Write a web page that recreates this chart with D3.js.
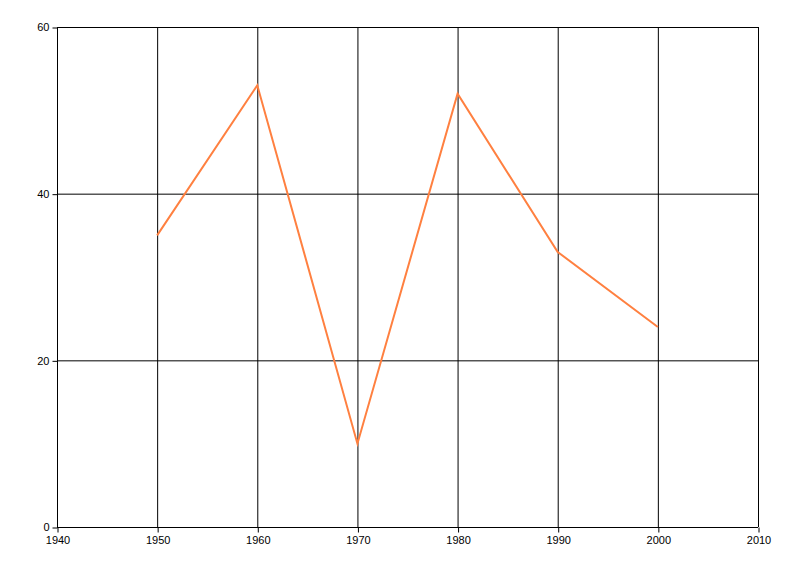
<!DOCTYPE html>
<html><head><meta charset="utf-8">
<script src="https://cdn.jsdelivr.net/npm/d3@7"></script>
<style>body{margin:0;background:#fff}svg{display:block}text{font-family:"Liberation Sans",Arial,sans-serif;font-size:11px}</style>
</head><body>
<svg id="c" width="800" height="576"></svg>
<script>
const years = [1950, 1960, 1970, 1980, 1990, 2000];
const values = [35, 53, 10, 52, 33, 24];
const xTicks = [1940, 1950, 1960, 1970, 1980, 1990, 2000, 2010];
const yTicks = [0, 20, 40, 60];

const svg = d3.select("#c");
const m = {l: 57, r: 42, t: 27, b: 49};
const W = 800, H = 576;
const x = d3.scaleLinear().domain([1940, 2010]).range([m.l, W - m.r]);
const y = d3.scaleLinear().domain([0, 60]).range([H - m.b, m.t]);

const g = svg.append("g");
g.selectAll(".vg").data(xTicks).join("line")
  .attr("x1", d => x(d) + 0.5).attr("x2", d => x(d) + 0.5)
  .attr("y1", y(60)).attr("y2", y(0)).attr("stroke", "#000").attr("stroke-width", 1);
g.selectAll(".hg").data(yTicks).join("line")
  .attr("y1", d => y(d) + 0.5).attr("y2", d => y(d) + 0.5)
  .attr("x1", x(1940)).attr("x2", x(2010)).attr("stroke", "#000").attr("stroke-width", 1);

const xa = svg.append("g").attr("transform", `translate(0.5,${y(0) + 0.5})`)
  .call(d3.axisBottom(x).tickValues(xTicks).tickFormat(d3.format("d")).tickSize(5).tickSizeOuter(0));
const ya = svg.append("g").attr("transform", `translate(${x(1940) + 0.5},0.5)`)
  .call(d3.axisLeft(y).tickValues(yTicks).tickSize(5).tickSizeOuter(0));
[xa, ya].forEach(a => {
  a.select(".domain").remove();
  a.selectAll("line").attr("stroke", "#000");
  a.selectAll("text").attr("fill", "#000").style("font-size", "11px").style("font-family", "Liberation Sans, Arial, sans-serif");
});
xa.selectAll("text").attr("dy", "0.9em").attr("y", 7);
ya.selectAll("text").attr("x", -8).attr("dy", "0.3em");

const line = d3.line().x((d, i) => x(years[i])).y(d => y(d));
svg.append("path").datum(values).attr("d", line)
  .attr("fill", "none").attr("stroke", "#ff8040").attr("stroke-width", 2);
</script>
</body></html>
